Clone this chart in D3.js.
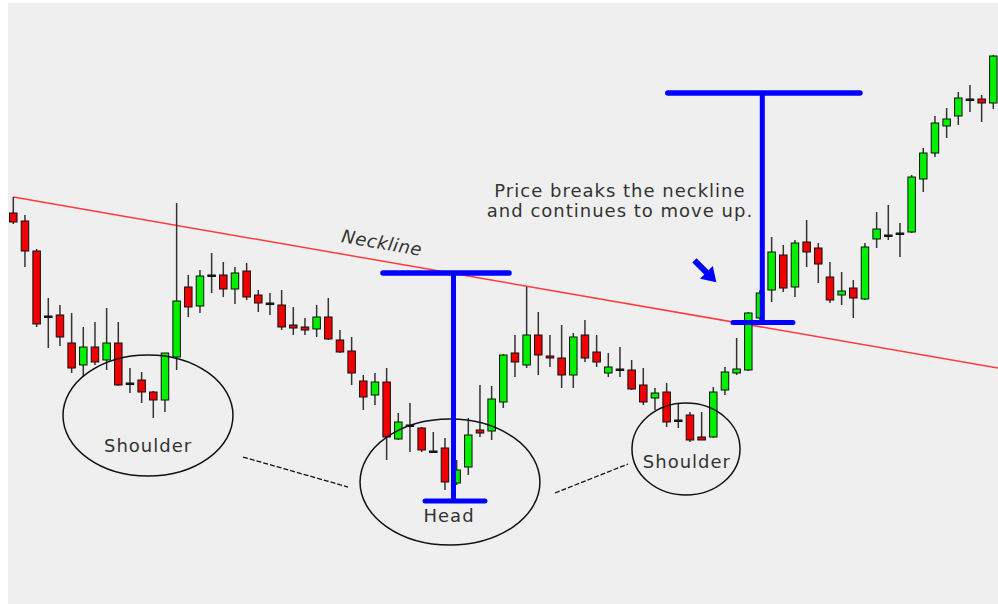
<!DOCTYPE html>
<html lang="en">
<head>
<meta charset="UTF-8" />
<title>Head and Shoulders</title>
<style>
  body { margin: 0; background: #fff; }
  text { font-family: "DejaVu Sans", Verdana, sans-serif; fill: #333; }
</style>
</head>
<body>
<svg id="svg" width="998" height="604"></svg>
<script src="https://d3js.org/d3.v7.min.js"></script>
<script>
// candle values (one per bar)
const open  = [387,379,349,284,285,257,235,253,240,257,217,220,208,200,243,313,294,325,325,311,
               329,305,297,295,275,273,271,283,260,249,219,205,218,161,175,172,149,152,117,133,
               170,169,198,247,235,265,244,242,225,265,248,227,231,230,215,202,208,180,185,163,
               163,210,227,230,282,310,345,313,358,352,323,305,312,301,361,365,367,368,421,447,
               474,484,501,501,497];
const close = [378,349,276,284,263,232,253,238,257,215,217,208,200,247,299,293,324,325,311,327,
               303,297,297,273,272,270,283,261,248,227,203,218,163,178,175,150,149,118,130,165,
               167,201,245,238,265,245,242,225,263,242,238,233,231,211,198,207,178,180,160,160,
               208,228,231,287,307,348,312,357,348,336,300,309,302,353,371,365,367,423,447,477,
               481,502,501,497,544];
const high  = [403,385,351,302,295,287,273,278,292,278,232,228,209,247,397,325,330,347,338,333,
               337,310,307,310,293,282,295,302,270,263,225,227,232,187,197,173,168,162,140,182,
               215,214,246,265,313,288,265,275,267,280,265,247,253,240,232,212,217,197,188,188,
               213,233,262,288,310,363,355,360,380,357,338,328,320,357,388,395,377,425,452,484,
               492,508,515,505,545];
const low   = [376,333,273,252,254,227,223,235,230,214,207,197,182,188,230,283,287,307,303,296,
               300,288,285,270,265,265,263,260,247,215,190,195,140,160,148,148,147,110,115,125,
               163,160,192,223,232,225,233,212,212,238,233,223,223,210,195,190,173,172,158,160,
               162,205,225,229,280,298,308,303,333,317,297,295,282,300,352,360,343,367,408,443,
               462,475,488,478,491];

// annotations, in bar index / price units
const neckline = [[0, 403], [84.4, 232]];
const measures = [
  { x: 37.73, top: 327, bottom: 99,    topSpan: [31.69, 42.49], bottomSpan: [35.29, 40.43] },
  { x: 64.2,  top: 507, bottom: 277.5, topSpan: [56.1, 72.57],  bottomSpan: [61.69, 66.83] }
];
const circles = [
  { name: 'Shoulder', x: [4.26, 18.83],  y: [124, 245], label: [11.55, 148] },
  { name: 'Head',     x: [29.72, 45.14], y: [55, 181],  label: [37.35, 78] },
  { name: 'Shoulder', x: [53.03, 62.29], y: [105, 197], label: [57.74, 132] }
];
const connectors = [
  [[19.69, 143], [28.69, 113]],
  [[46.43, 107], [52.69, 136]]
];
const noteLines = ['Price breaks the neckline', 'and continues to move up.'];
const notePos = [52.0, 403];
const arrowPos = [59.29, 329];

const svg = d3.select('#svg');
const xScale = d3.scaleLinear().domain([0, 84]).range([13.3, 993.3]);
const yScale = d3.scaleLinear().domain([0, 600]).range([600, 0]);

svg.append('rect')
  .attr('x', 8).attr('y', 3)
  .attr('width', 990).attr('height', 601)
  .attr('fill', '#efefef');

const candles = d3.range(open.length).map((i) => ({
  i: i, o: open[i], c: close[i], h: high[i], l: low[i]
}));

// neckline
svg.append('path')
  .attr('d', d3.line().x((d) => xScale(d[0])).y((d) => yScale(d[1]))(neckline))
  .attr('stroke', '#ff3b3b')
  .attr('stroke-width', 1.5)
  .attr('fill', 'none');

// candles
const g = svg.append('g').selectAll('g').data(candles).enter().append('g');
g.append('line')
  .attr('x1', (d) => xScale(d.i)).attr('x2', (d) => xScale(d.i))
  .attr('y1', (d) => yScale(d.h)).attr('y2', (d) => yScale(d.l))
  .attr('stroke', '#333')
  .attr('stroke-width', 1.5);
g.append('rect')
  .attr('x', (d) => xScale(d.i) - 3.75)
  .attr('width', 7.5)
  .attr('y', (d) => yScale(Math.max(d.o, d.c)))
  .attr('height', (d) => Math.max(1.5, Math.abs(yScale(d.o) - yScale(d.c))))
  .attr('fill', (d) => (d.c > d.o ? '#00f000' : d.c < d.o ? '#f00000' : '#222'))
  .attr('stroke', '#111')
  .attr('stroke-width', 1);

// ellipses and labels
circles.forEach((e) => {
  const x0 = xScale(e.x[0]), x1 = xScale(e.x[1]);
  const y0 = yScale(e.y[1]), y1 = yScale(e.y[0]);
  svg.append('ellipse')
    .attr('cx', (x0 + x1) / 2).attr('cy', (y0 + y1) / 2)
    .attr('rx', (x1 - x0) / 2).attr('ry', (y1 - y0) / 2)
    .attr('fill', 'none')
    .attr('stroke', '#111')
    .attr('stroke-width', 1.5);
  svg.append('text')
    .attr('x', xScale(e.label[0])).attr('y', yScale(e.label[1]))
    .attr('text-anchor', 'middle')
    .style('font-size', '18px')
    .style('letter-spacing', '1px')
    .text(e.name);
});

connectors.forEach((c) => {
  svg.append('line')
    .attr('x1', xScale(c[0][0])).attr('y1', yScale(c[0][1]))
    .attr('x2', xScale(c[1][0])).attr('y2', yScale(c[1][1]))
    .attr('stroke', '#111')
    .attr('stroke-width', 1.3)
    .attr('stroke-dasharray', '5,2');
});

// blue measuring bars
measures.forEach((m) => {
  const blue = svg.append('g')
    .attr('stroke', '#0000ff')
    .attr('stroke-linecap', 'round');
  blue.append('line')
    .attr('x1', xScale(m.x)).attr('x2', xScale(m.x))
    .attr('y1', yScale(m.top)).attr('y2', yScale(m.bottom))
    .attr('stroke-width', 5)
    .attr('stroke-linecap', 'butt');
  blue.append('line')
    .attr('x1', xScale(m.topSpan[0])).attr('x2', xScale(m.topSpan[1]))
    .attr('y1', yScale(m.top)).attr('y2', yScale(m.top))
    .attr('stroke-width', 5.5);
  blue.append('line')
    .attr('x1', xScale(m.bottomSpan[0])).attr('x2', xScale(m.bottomSpan[1]))
    .attr('y1', yScale(m.bottom)).attr('y2', yScale(m.bottom))
    .attr('stroke-width', 5);
});

// neckline label, tilted with the line
const nx = xScale(31.5), ny = yScale(351);
const angle = Math.atan2(yScale(neckline[1][1]) - yScale(neckline[0][1]),
  xScale(neckline[1][0]) - xScale(neckline[0][0])) * 180 / Math.PI;
svg.append('text')
  .attr('transform', `translate(${nx},${ny}) rotate(${angle})`)
  .attr('text-anchor', 'middle')
  .style('font-size', '18px')
  .style('letter-spacing', '0.5px')
  .style('font-style', 'italic')
  .text('Neckline');

// note text
svg.append('text')
  .attr('x', xScale(notePos[0])).attr('y', yScale(notePos[1]))
  .attr('text-anchor', 'middle')
  .style('font-size', '18px')
  .style('letter-spacing', '1px')
  .selectAll('tspan').data(noteLines).enter().append('tspan')
  .attr('x', xScale(notePos[0]))
  .attr('dy', (d, i) => (i === 0 ? 0 : 20))
  .text((d) => d);

// little blue arrow
svg.append('path')
  .attr('transform', `translate(${xScale(arrowPos[0])},${yScale(arrowPos[1])}) rotate(45)`)
  .attr('d', 'M-15,-3 L2,-3 L2,-9 L16,0 L2,9 L2,3 L-15,3 Z')
  .attr('fill', '#0000ff');
</script>
</body>
</html>
